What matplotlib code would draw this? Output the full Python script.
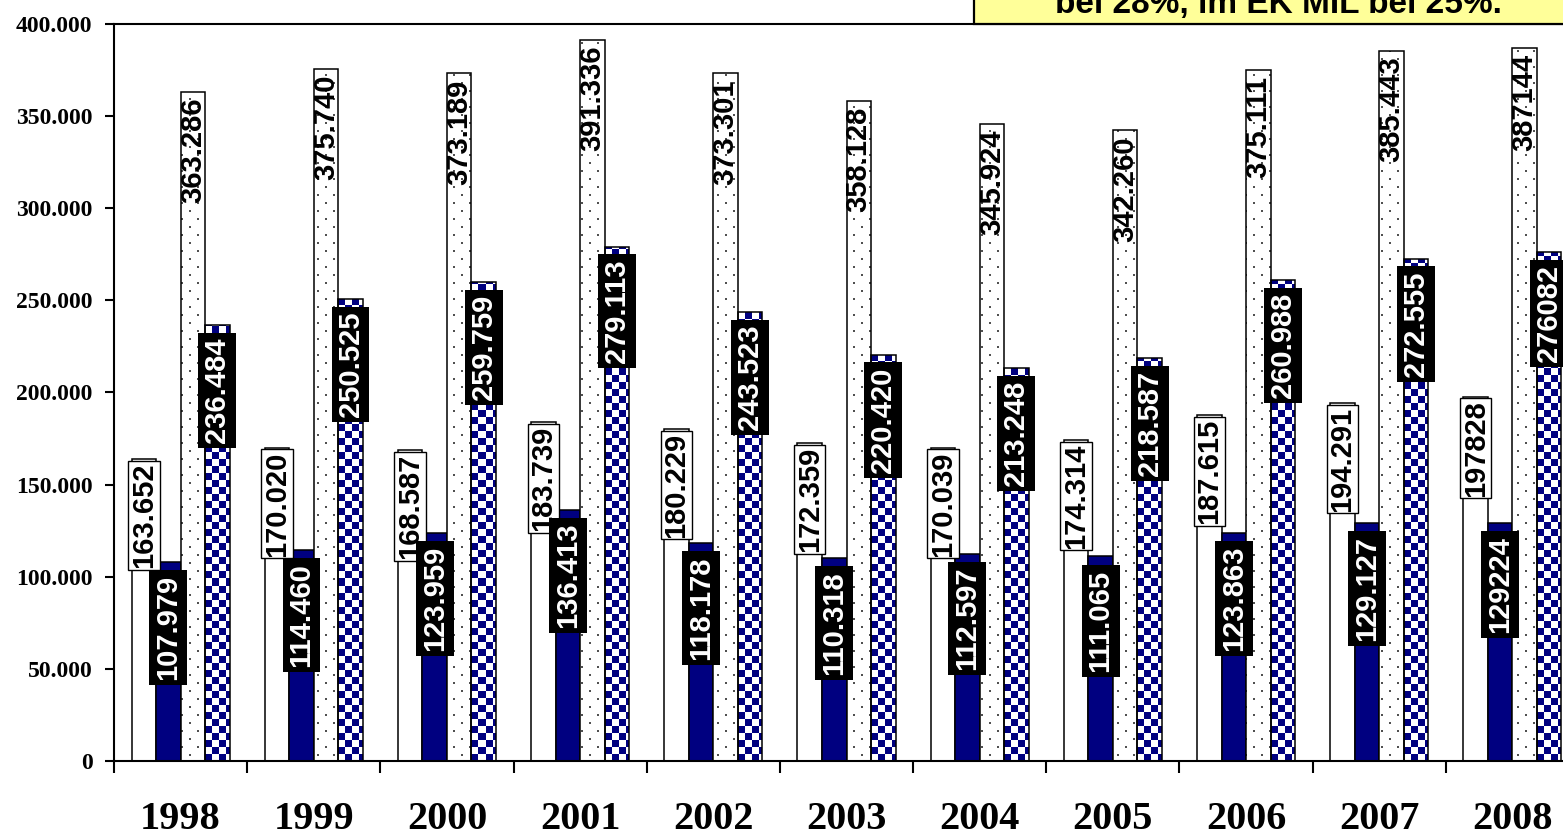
import numpy as np
import matplotlib.pyplot as plt
from matplotlib.colors import ListedColormap
from matplotlib.patches import Rectangle
from matplotlib.path import Path
from matplotlib.ticker import FuncFormatter

years = [1998, 1999, 2000, 2001, 2002, 2003, 2004, 2005, 2006, 2007, 2008]
white_vals = [163652, 170020, 168587, 183739, 180229, 172359, 170039, 174314, 187615, 194291, 197828]
navy_vals = [107979, 114460, 123959, 136413, 118178, 110318, 112597, 111065, 123863, 129127, 129224]
dotted_vals = [363286, 375740, 373189, 391336, 373301, 358128, 345924, 342260, 375111, 385443, 387144]
checked_vals = [236484, 250525, 259759, 279113, 243523, 220420, 213248, 218587, 260988, 272555, 276082]
plain_years = [2008]  # labels of this year were typed without the thousands dot
note = "bei 28%, im EK MIL bei 25%."

NAVY = '#000080'


def fmt(v, year):
    if year in plain_years:
        return str(v)
    return f"{v:,}".replace(",", ".")


def bar_clip(bars):
    paths = []
    for r in bars:
        x0, x1, h = r.get_x(), r.get_x() + r.get_width(), r.get_height()
        paths.append(Path([(x0, 0), (x1, 0), (x1, h), (x0, h), (x0, 0)], closed=True))
    return Path.make_compound_path(*paths)


fig = plt.figure(figsize=(15.63, 8.36), dpi=100)
ax = fig.add_axes([114 / 1563, 75 / 836, 1465 / 1563, 737 / 836])

x = np.arange(len(years))
w = 0.184
ax.bar(x - 1.5 * w, white_vals, w, color='white', edgecolor='black', lw=1.1, zorder=2)
ax.bar(x - 0.5 * w, navy_vals, w, color=NAVY, edgecolor='black', lw=1.1, zorder=2)
dotted = ax.bar(x + 0.5 * w, dotted_vals, w, color='white', edgecolor='none', zorder=2)
checked = ax.bar(x + 1.5 * w, checked_vals, w, color=NAVY, edgecolor='none', zorder=2)

# checkerboard fill for the last series
board = np.indices((105, 209)).sum(axis=0) % 2
img = ax.imshow(board, cmap=ListedColormap(['white', NAVY]), extent=(0, 1, 0, 1),
                transform=ax.transAxes, aspect='auto', interpolation='nearest', zorder=2.5)
img.set_clip_path(bar_clip(checked), ax.transData)

# sparse dot fill for the third series
dots = np.zeros((737, 1465))
for r0, c0 in [(2, 3), (10, 11)]:
    for dr in (0, 1):
        for dc in (0, 1):
            dots[r0 + dr::16, c0 + dc::16] = 1
dimg = ax.imshow(dots, cmap=ListedColormap(['white', '#505050']), extent=(0, 1, 0, 1),
                 transform=ax.transAxes, aspect='auto', interpolation='nearest', zorder=2.5)
dimg.set_clip_path(bar_clip(dotted), ax.transData)

ax.bar(x + 0.5 * w, dotted_vals, w, fill=False, edgecolor='black', lw=1.1, zorder=3)
ax.bar(x + 1.5 * w, checked_vals, w, fill=False, edgecolor='black', lw=1.1, zorder=3)


def put_labels(xs, vals, offset, color, box):
    for xi, v, yr in zip(xs, vals, years):
        ax.annotate(fmt(v, yr), (xi, v), xytext=(0, -offset), textcoords='offset points',
                    rotation=90, ha='center', va='top', fontsize=21, fontweight='bold',
                    family='Liberation Sans', color=color, bbox=box, zorder=5,
                    annotation_clip=False)


put_labels(x - 1.5 * w, white_vals, 2.5, 'black',
           dict(boxstyle='square,pad=0.06', fc='white', ec='black', lw=1.0))
put_labels(x + 0.5 * w, dotted_vals, 4.3, 'black', None)
put_labels(x - 0.5 * w, navy_vals, 9.5, 'white',
           dict(boxstyle='square,pad=0.17', fc='black', ec='black', lw=0))
put_labels(x + 1.5 * w, checked_vals, 9.0, 'white',
           dict(boxstyle='square,pad=0.17', fc='black', ec='black', lw=0))

ax.set_xlim(-0.5, 10.5)
ax.set_ylim(0, 400000)
ax.set_yticks(np.arange(0, 400001, 50000))
ax.yaxis.set_major_formatter(FuncFormatter(lambda v, p: f"{int(v):,}".replace(",", ".")))
ax.tick_params(axis='y', direction='out', length=6.5, width=1.5, pad=9)
for t in ax.get_yticklabels():
    t.set_fontfamily('Liberation Serif')
    t.set_fontweight('bold')
    t.set_fontsize(17)

ax.set_xticks(x)
ax.set_xticklabels([str(y) for y in years], fontfamily='Liberation Serif',
                   fontweight='bold', fontsize=29)
ax.set_xticks(x - 0.5, minor=True)
ax.tick_params(axis='x', which='major', length=0, pad=29)
ax.tick_params(axis='x', which='minor', direction='out', length=8.6, width=1.5)

for s in ax.spines.values():
    s.set_linewidth(1.5)

# yellow note box cut off at the top right
fig.add_artist(Rectangle((974 / 1563, 1 - 24 / 836), 0.5, 0.2, transform=fig.transFigure,
                         fc='#FFFF99', ec='black', lw=1.6, zorder=10, clip_on=False))
fig.text(1055 / 1563, 1 - 13 / 836, note, ha='left', va='baseline', fontsize=24,
         fontweight='bold', family='Liberation Sans', zorder=11)

fig.savefig('out.png', dpi=100)
